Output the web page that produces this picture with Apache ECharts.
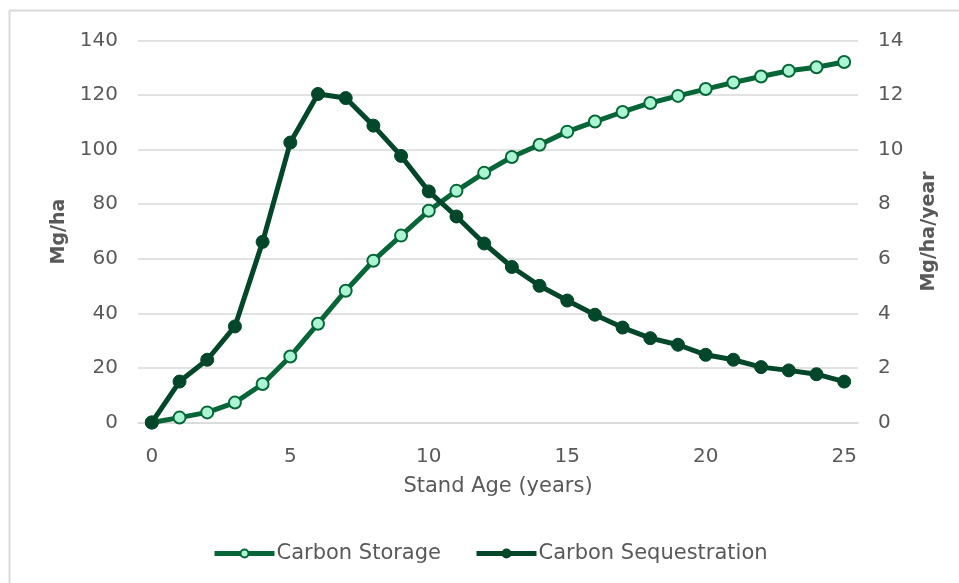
<!DOCTYPE html>
<html>
<head>
<meta charset="utf-8">
<script src="https://cdn.jsdelivr.net/npm/echarts@6/dist/echarts.min.js"></script>
<style>
  html, body { margin: 0; padding: 0; background: #ffffff; }
  #chart { width: 959px; height: 583px; }
</style>
</head>
<body>
<div id="chart"></div>
<script>
// Stand age in years (category axis, one point per year)
const standAge = [0, 1, 2, 3, 4, 5, 6, 7, 8, 9, 10, 11, 12, 13, 14, 15, 16, 17, 18, 19, 20, 21, 22, 23, 24, 25];

// Cumulative carbon stored, Mg/ha (left axis)
const carbonStorage = [0, 1.8, 3.7, 7.3, 14.1, 24.2, 36.2, 48.3, 59.3, 68.5, 77.6, 84.9, 91.5, 97.3, 101.8, 106.6, 110.3, 113.8, 117.1, 119.7, 122.2, 124.6, 126.8, 128.9, 130.2, 132.1];

// Annual carbon sequestration, Mg/ha/year (right axis)
const carbonSequestration = [0, 1.50, 2.30, 3.52, 6.62, 10.26, 12.04, 11.89, 10.88, 9.77, 8.47, 7.55, 6.56, 5.70, 5.01, 4.47, 3.95, 3.48, 3.09, 2.85, 2.48, 2.30, 2.03, 1.91, 1.77, 1.50];

const leftTicks = { min: 0, max: 140, interval: 20 };
const rightTicks = { min: 0, max: 14, interval: 2 };

const FONT = 'DejaVu Sans';
const TEXT = '#595959';
const GRIDLINE = '#d9d9d9';
const STORAGE_LINE = '#076638';
const STORAGE_FILL = '#aaf5d2';
const SEQ_LINE = '#02472a';

const chart = echarts.init(document.getElementById('chart'), null, { renderer: 'canvas' });

chart.setOption({
  backgroundColor: '#ffffff',
  animation: false,
  textStyle: { fontFamily: FONT, color: TEXT },
  graphic: [
    // light frame around the chart area
    { type: 'line', shape: { x1: 9.5, y1: 10.5, x2: 959, y2: 10.5 }, style: { stroke: '#d9d9d9', lineWidth: 2 } },
    { type: 'line', shape: { x1: 9.5, y1: 10.5, x2: 9.5, y2: 583 }, style: { stroke: '#d9d9d9', lineWidth: 2 } }
  ],
  grid: { left: 138, right: 101, top: 40.5, bottom: 160.5, containLabel: false },
  legend: {
    top: 538,
    left: 207,
    itemWidth: 60,
    itemHeight: 10,
    itemGap: 33,
    textStyle: { fontFamily: FONT, fontSize: 21, color: TEXT, padding: [0, 0, 0, -3] },
    data: [
      { name: 'Carbon Storage', lineStyle: { width: 5, color: STORAGE_LINE } },
      { name: 'Carbon Sequestration', lineStyle: { width: 5, color: SEQ_LINE } }
    ]
  },
  xAxis: {
    type: 'category',
    data: standAge,
    boundaryGap: true,
    name: 'Stand Age (years)',
    nameLocation: 'middle',
    nameGap: 54,
    nameTextStyle: { fontFamily: FONT, fontSize: 21, color: TEXT },
    axisLine: { show: true, lineStyle: { color: GRIDLINE, width: 1.5 } },
    axisTick: { show: false },
    axisLabel: { interval: 4, margin: 24, fontFamily: FONT, fontSize: 20, color: TEXT },
    splitLine: { show: false }
  },
  yAxis: [
    {
      type: 'value',
      min: leftTicks.min, max: leftTicks.max, interval: leftTicks.interval,
      name: 'Mg/ha',
      nameLocation: 'middle',
      nameGap: 69,
      nameRotate: 90,
      nameTextStyle: { fontFamily: FONT, fontSize: 19, fontWeight: 'bold', color: TEXT },
      axisLine: { show: false },
      axisTick: { show: false },
      axisLabel: { margin: 20, fontFamily: FONT, fontSize: 20, color: TEXT },
      splitLine: { show: true, lineStyle: { color: GRIDLINE, width: 1.5 } }
    },
    {
      type: 'value',
      position: 'right',
      min: rightTicks.min, max: rightTicks.max, interval: rightTicks.interval,
      name: 'Mg/ha/year',
      nameLocation: 'middle',
      nameGap: 62,
      nameRotate: 90,
      nameTextStyle: { fontFamily: FONT, fontSize: 19, fontWeight: 'bold', color: TEXT },
      axisLine: { show: false },
      axisTick: { show: false },
      axisLabel: { margin: 20, fontFamily: FONT, fontSize: 20, color: TEXT },
      splitLine: { show: false }
    }
  ],
  series: [
    {
      name: 'Carbon Storage',
      type: 'line',
      yAxisIndex: 0,
      data: carbonStorage,
      symbol: 'circle',
      symbolSize: 12,
      showAllSymbol: true,
      lineStyle: { color: STORAGE_LINE, width: 5 },
      itemStyle: { color: STORAGE_FILL, borderColor: STORAGE_LINE, borderWidth: 2 },
      z: 2
    },
    {
      name: 'Carbon Sequestration',
      type: 'line',
      yAxisIndex: 1,
      data: carbonSequestration,
      symbol: 'circle',
      symbolSize: 13,
      showAllSymbol: true,
      lineStyle: { color: SEQ_LINE, width: 5 },
      itemStyle: { color: SEQ_LINE, borderColor: SEQ_LINE, borderWidth: 1 },
      z: 3
    }
  ]
});
</script>
</body>
</html>
